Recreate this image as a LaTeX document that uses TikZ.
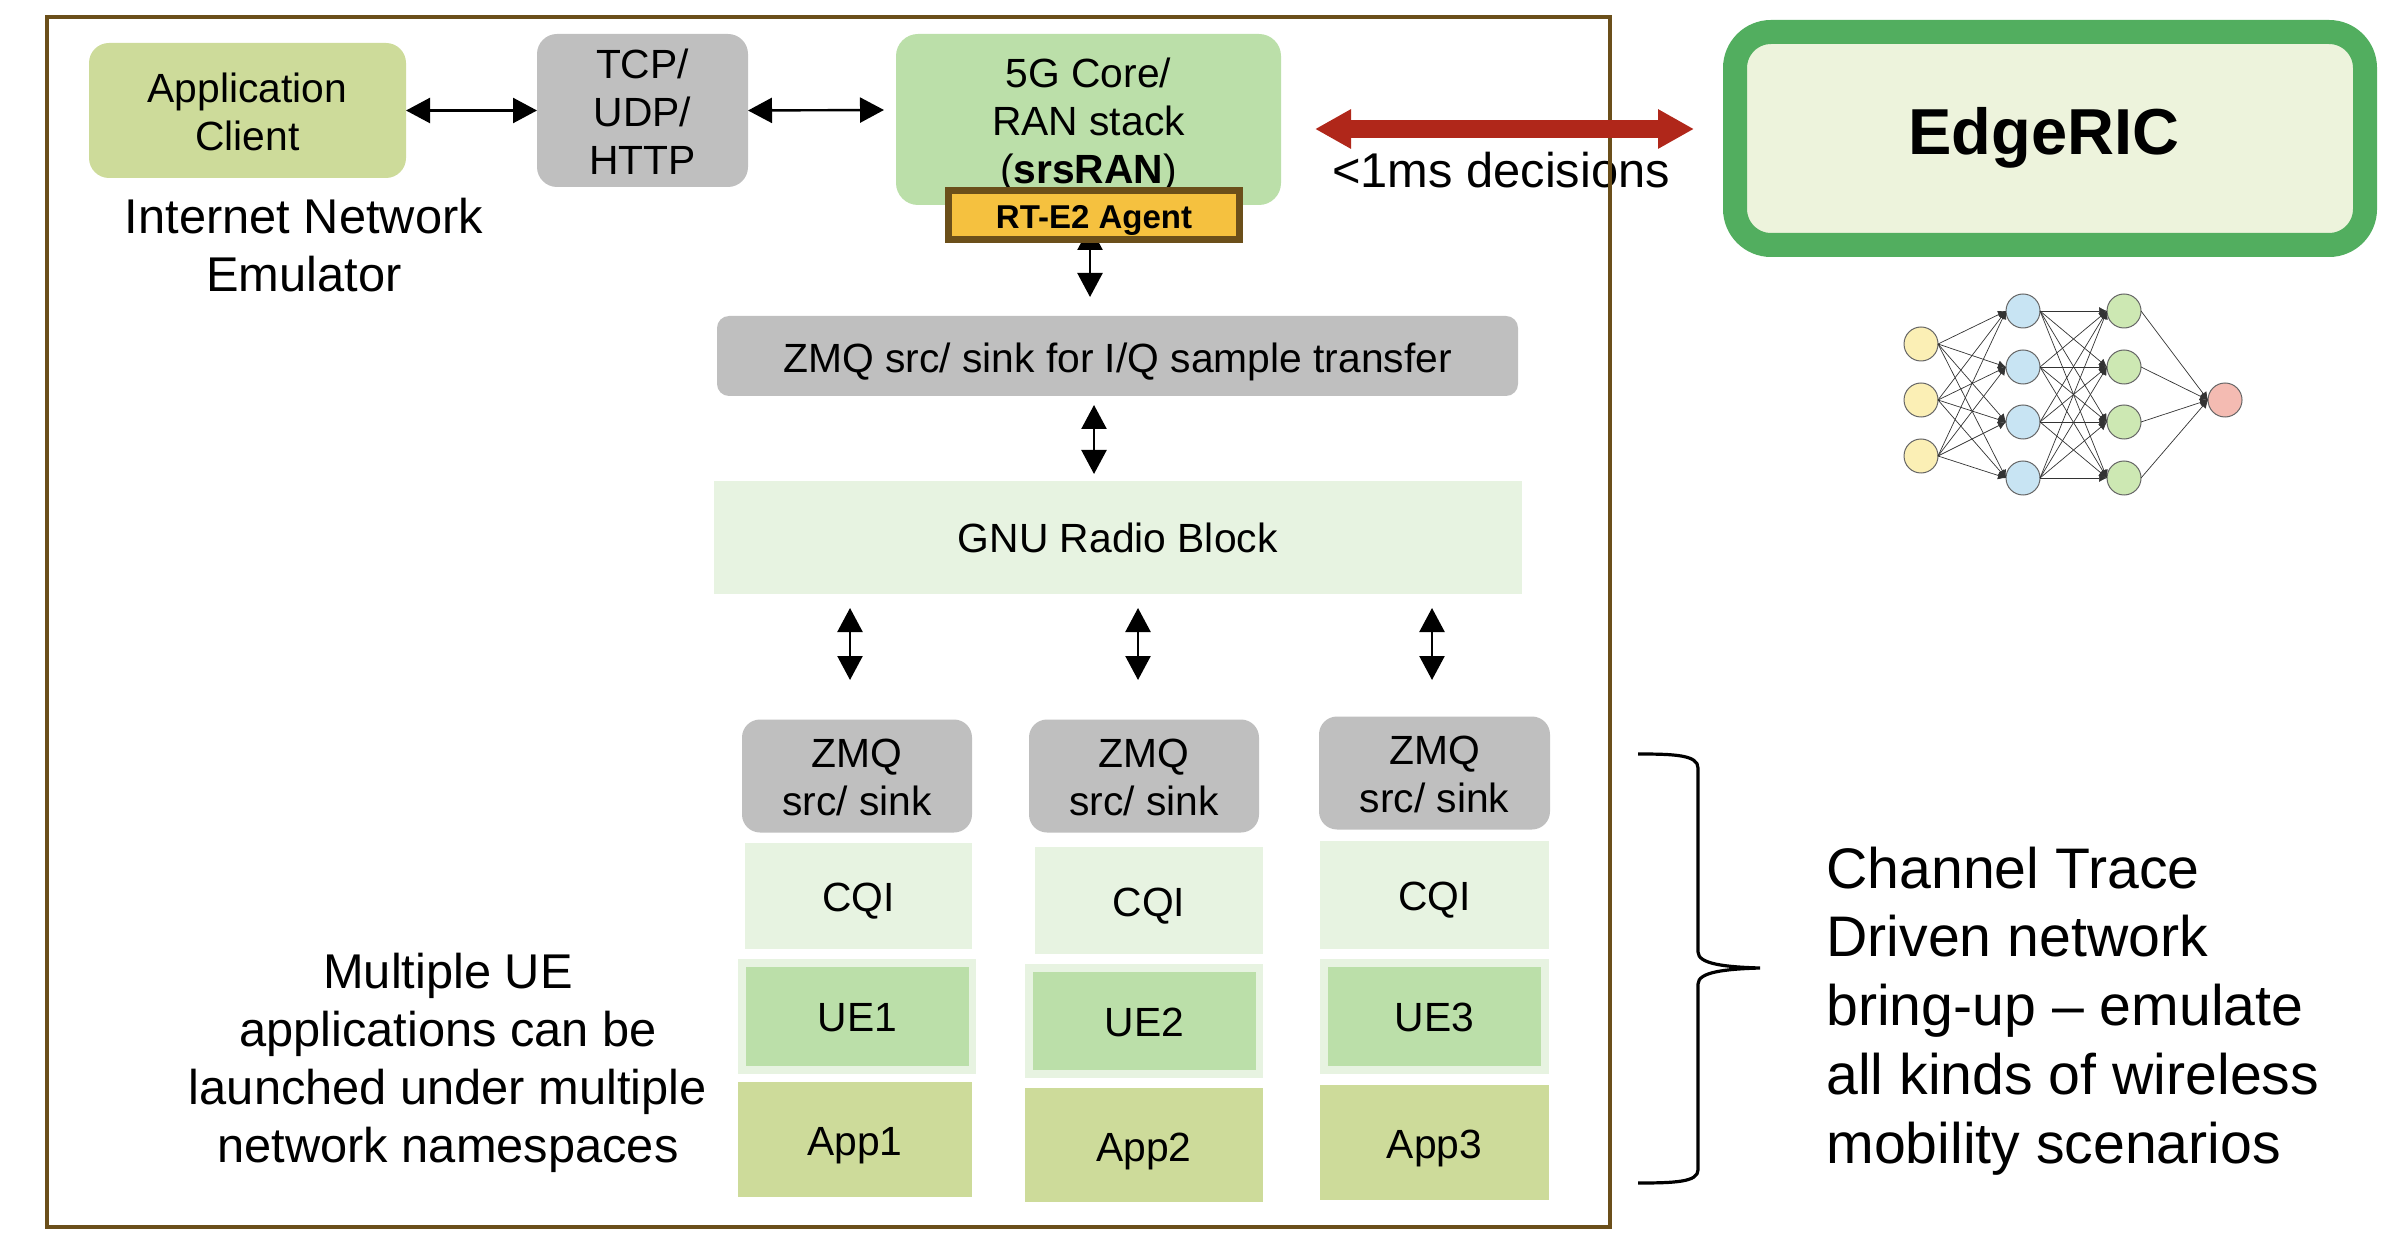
\documentclass[tikz,border=0pt]{standalone}
\usepackage{fontspec}
\setmainfont{Liberation Sans}
\usetikzlibrary{arrows.meta}
\definecolor{frameC}{HTML}{6B4F1A}
\definecolor{limeC}{HTML}{CDDB9A}
\definecolor{grayC}{HTML}{BFBFBF}
\definecolor{greenC}{HTML}{BBDFA9}
\definecolor{paleC}{HTML}{E7F3E1}
\definecolor{goldC}{HTML}{F5C13F}
\definecolor{ricF}{HTML}{EDF3DC}
\definecolor{ricS}{HTML}{52AE5F}
\definecolor{redC}{HTML}{B0271A}
\definecolor{nnY}{HTML}{FBEFB5}
\definecolor{nnB}{HTML}{C8E4F3}
\definecolor{nnG}{HTML}{CDE8B3}
\definecolor{nnR}{HTML}{F4BBB2}
\tikzset{
 x=0.5pt,y=-0.5pt,
 dbl/.style={{Triangle[length=12pt,width=12.5pt]}-{Triangle[length=12pt,width=12.5pt]},line width=1.2pt,black},
 label/.style={inner sep=0pt,align=center,font=\fontsize{24.4}{29}\selectfont},
 nn/.style={circle,draw=black!60,line width=0.5pt,minimum size=17pt,inner sep=0pt,outer sep=0pt},
 nnedge/.style={-{Latex[length=4pt,width=4pt]},line width=0.35pt,black!80},
}
% #1 name, #2 style, #3 x0,#4 y0,#5 x1,#6 y1,#7 text,#8 text drop in px
\newcommand{\bx}[8]{\path[#2] (#3,#4) rectangle (#5,#6);
 \node[inner sep=0pt,outer sep=0pt,minimum width={(#5-#3)*0.5pt},minimum height={(#6-#4)*0.5pt},align=center,font=\fontsize{20.4}{24}\selectfont] (#1) at ({(#3+#5)/2},{(#4+#6)/2}) {};
 \node[inner sep=0pt,outer sep=0pt,align=center,font=\fontsize{20.4}{24}\selectfont] at ({(#3+#5)/2},{(#4+#6)/2+#8}) {#7};}
\begin{document}
\begin{tikzpicture}
\useasboundingbox (0,0) rectangle (2392,1240);
\node[inner sep=0pt,font=\fontsize{24.4}{29}\selectfont] (dec) at (1501,170) {<1ms decisions};
\draw[frameC,line width=2pt] (47,17) rectangle (1610,1227);
\bx{app}{fill=limeC,rounded corners=10pt}{89}{43}{406}{178}{Application\\Client}{1}
\bx{tcp}{fill=grayC,rounded corners=10pt}{537}{34}{748}{187}{TCP/\\UDP/\\HTTP}{1}
\bx{core}{fill=greenC,rounded corners=11pt}{896}{34}{1281}{205}{5G Core/\\RAN stack\\(\textbf{srsRAN})}{5}
\draw[dbl] (1090,226) -- (1090,297) coordinate (arrEnd);
\draw[frameC,fill=goldC,line width=3.5pt] (948,191) rectangle (1239,240);
\node[inner sep=0pt,font=\fontsize{16.5}{20}\selectfont\bfseries] (agent) at (1094,220) {RT-E2 Agent};
\draw[dbl] (app.east) -- (tcp.west);
\draw[dbl] (tcp.east) -- (884,110) coordinate (coreIn);
\node[label] (inet) at (304,245.5) {Internet Network\\Emulator};
\bx{zmq}{fill=grayC,rounded corners=6pt}{717}{316}{1518}{396}{ZMQ src/ sink for I/Q sample transfer}{6}
\bx{gnu}{fill=paleC}{713.5}{481}{1522}{594}{GNU Radio Block}{0}
\draw[dbl] (1094,405) coordinate (a1) -- (1094,474) coordinate (a2);
\foreach \i/\x in {1/850,2/1138,3/1432}{\draw[dbl] (\x,608) coordinate (ua\i) -- (\x,680) coordinate (ub\i);}
\begin{scope}[shift={(0,1.5)}]
% column 1
\bx{z1}{fill=grayC,rounded corners=9pt}{742}{718}{972}{831}{ZMQ\\src/ sink}{1.5}
\bx{c1}{fill=paleC}{745}{841}{972}{947}{CQI}{6}
\fill[paleC] (738,957) rectangle (976,1072);
\bx{u1}{fill=greenC}{746}{965}{969}{1064}{UE1}{1.5}
\bx{p1}{fill=limeC}{738}{1080}{972}{1195}{App1}{6.5}
% column 2
\bx{z2}{fill=grayC,rounded corners=9pt}{1029}{718}{1259}{831}{ZMQ\\src/ sink}{1.5}
\bx{c2}{fill=paleC}{1035}{845}{1263}{952}{CQI}{6}
\fill[paleC] (1025,962) rectangle (1263,1076);
\bx{u2}{fill=greenC}{1033}{970}{1256}{1068}{UE2}{1.5}
\bx{p2}{fill=limeC}{1025}{1086}{1263}{1200}{App2}{6.5}
% column 3
\bx{z3}{fill=grayC,rounded corners=9pt}{1319}{715}{1550}{828}{ZMQ\\src/ sink}{1.5}
\bx{c3}{fill=paleC}{1320}{839}{1549}{947}{CQI}{6}
\fill[paleC] (1320,957) rectangle (1549,1072);
\bx{u3}{fill=greenC}{1328}{965}{1541}{1064}{UE3}{1.5}
\bx{p3}{fill=limeC}{1320}{1083}{1549}{1198}{App3}{6.5}
\end{scope}
\node[label] (multi) at (448,1063) {Multiple UE\\applications can be\\launched under multiple\\network namespaces};
% brace
\draw[black,line width=1.6pt] (1638,754) .. controls (1675,754) and (1698,755) .. (1698,768) -- (1698,952) .. controls (1698,964) and (1725,967) .. (1760,968) .. controls (1725,969) and (1698,972) .. (1698,984) -- (1698,1170) .. controls (1698,1182) and (1675,1183) .. (1638,1183);
\node[inner sep=0pt,align=left,anchor=west,font=\fontsize{28.6}{34.4}\selectfont] (trace) at (1826,1011) {Channel Trace\\Driven network\\bring-up -- emulate\\all kinds of wireless\\mobility scenarios};
% EdgeRIC
\draw[ricS,fill=ricF,line width=12pt,rounded corners=18pt] (1735,32) rectangle (2365,245);
\node[inner sep=0pt,font=\fontsize{32.5}{38}\selectfont\bfseries] (ric) at (2044,138) {EdgeRIC};
% red arrow
\draw[redC,line width=9pt,{Triangle[length=18pt,width=18.5pt]}-{Triangle[length=18pt,width=18.5pt]}] (1315,129) coordinate (rl) -- (1694,129) coordinate (rr);
% NN
\foreach \n/\x/\y/\c in {i1/1921/344/nnY,i2/1921/400/nnY,i3/1921/456/nnY,
 a1n/2023/311/nnB,a2n/2023/367/nnB,a3n/2023/422/nnB,a4n/2023/478/nnB,
 b1n/2124/311/nnG,b2n/2124/367/nnG,b3n/2124/422/nnG,b4n/2124/478/nnG,
 o1/2225/400/nnR}
 {\node[nn,fill=\c] (\n) at (\x,\y) {};}
\foreach \s in {i1,i2,i3}\foreach \t in {a1n,a2n,a3n,a4n}{\draw[nnedge] (\s.east) -- (\t.west);}
\foreach \s in {a1n,a2n,a3n,a4n}\foreach \t in {b1n,b2n,b3n,b4n}{\draw[nnedge] (\s.east) -- (\t.west);}
\foreach \s in {b1n,b2n,b3n,b4n}{\draw[nnedge] (\s.east) -- (o1.west);}
\end{tikzpicture}
\end{document}
